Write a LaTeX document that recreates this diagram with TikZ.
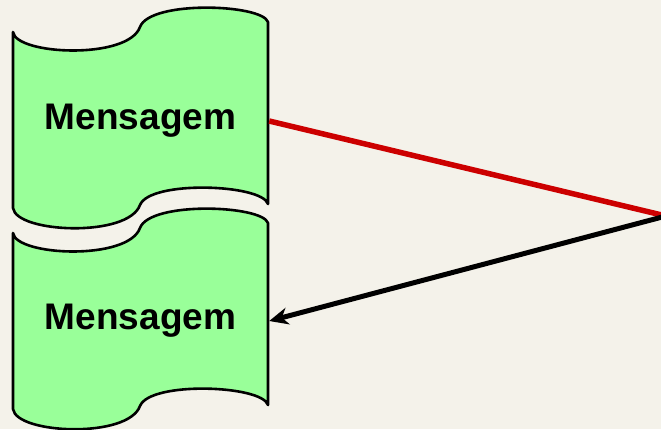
\documentclass[tikz,border=0pt]{standalone}
\usepackage{fontspec}
\setmainfont{Liberation Sans}
\usetikzlibrary{arrows.meta}
\definecolor{bgbeige}{HTML}{F4F2EA}
\definecolor{tapegreen}{HTML}{99FF99}
\definecolor{linered}{HTML}{CC0000}
\tikzset{
  tapebox/.style={draw=black, line width=2.6pt, fill=tapegreen, line join=round},
  tapelabel/.style={font=\fontsize{37}{40}\selectfont\bfseries, minimum width=255pt, minimum height=40pt, inner sep=0pt},
  redconn/.style={draw=linered, line width=5.5pt},
  blackconn/.style={draw=black, line width=5pt, -{Stealth[length=19pt,width=17pt,inset=6pt]}},
}
\newcommand\mytape{(13,32) .. controls (16,55) and (128,60) .. (140,27) .. controls (150,0) and (262,4) .. (268,22) -- (268,204) .. controls (262,184) and (150,180) .. (140,205) .. controls (128,238) and (16,233) .. (13,208) -- cycle}
\begin{document}
\begin{tikzpicture}[x=1pt,y=-1pt]
  \fill[bgbeige] (0,0) rectangle (661,429);
  \useasboundingbox (0,0) rectangle (661,429);
  \path[tapebox] \mytape;
  \begin{scope}[shift={(0,201)}]
    \path[tapebox] \mytape;
  \end{scope}
  \node[tapelabel] (m1) at (140.5,121) {Mensagem};
  \node[tapelabel] (m2) at (140.5,321) {Mensagem};
  \coordinate (far) at (666,216);
  \draw[redconn] ([xshift=1pt]m1.east) -- (far);
  \draw[blackconn] (far) -- ([xshift=1pt]m2.east);
\end{tikzpicture}
\end{document}
